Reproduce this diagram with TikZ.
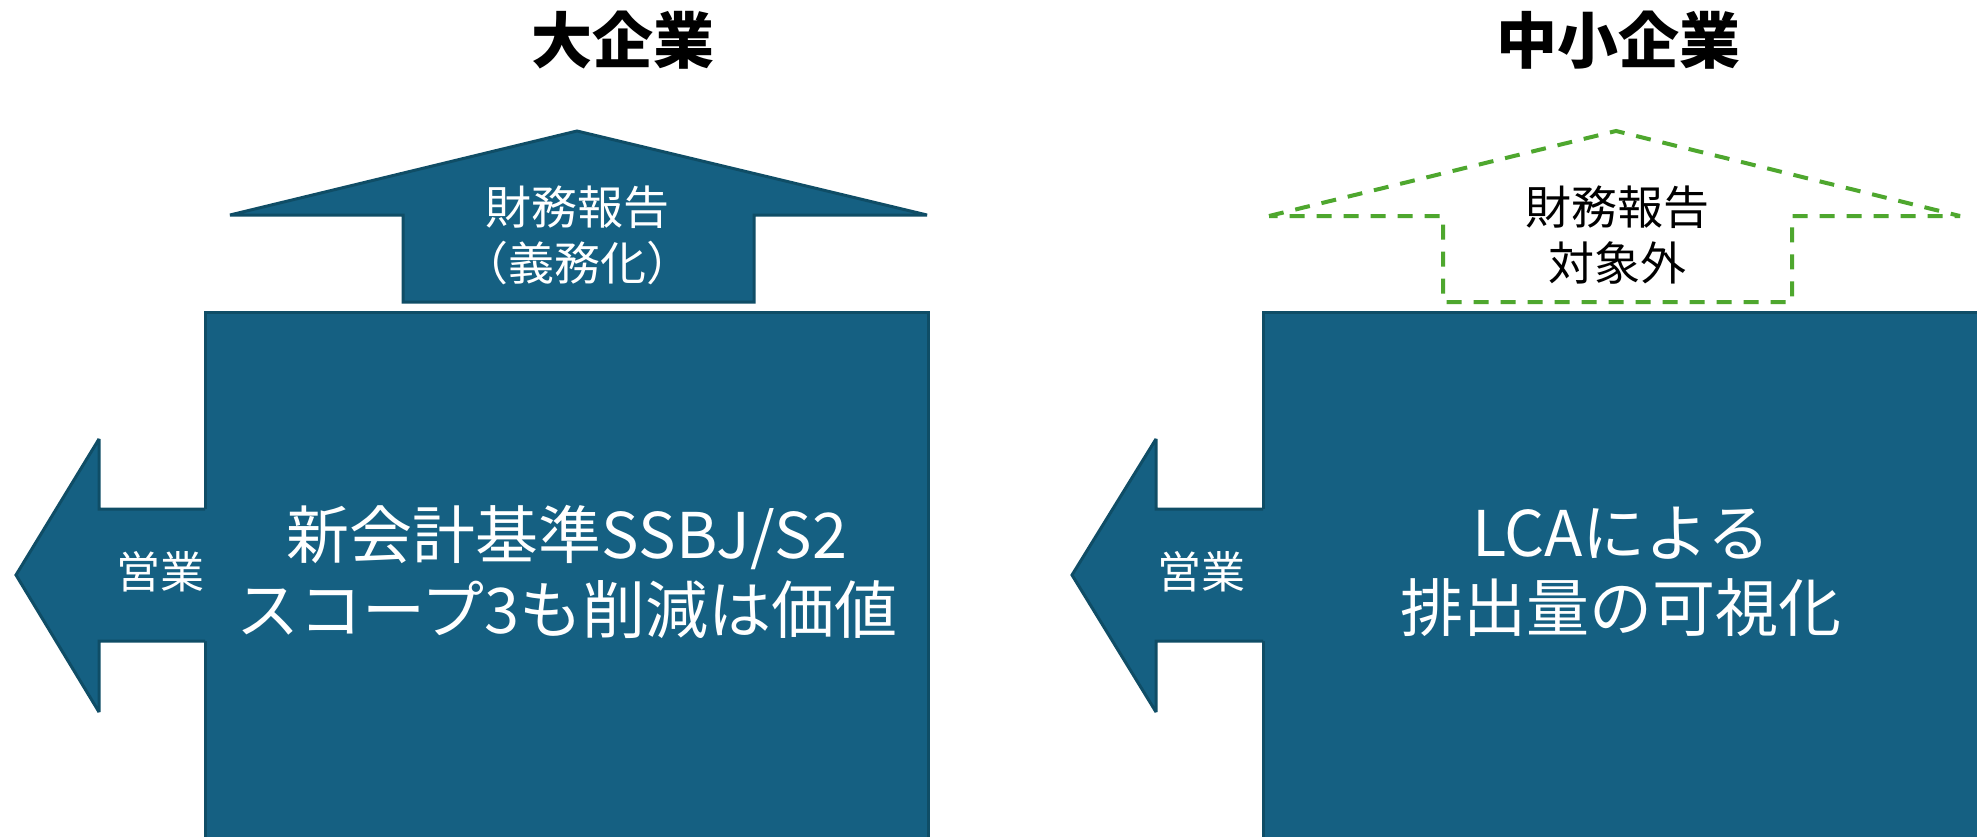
\documentclass[tikz,border=0pt]{standalone}
\usepackage{fontspec}
\newfontfamily\jp{Noto Sans CJK JP}
\definecolor{boxfill}{HTML}{156082}
\definecolor{boxline}{HTML}{0F4D66}
\definecolor{dashgreen}{HTML}{4EA72E}
\tikzset{
  blueshape/.style={fill=boxfill, draw=boxline, line width=3pt, line join=miter, miter limit=2},
  bluefill/.style={fill=boxfill, draw=none},
  blueline/.style={draw=boxline, line width=3pt, line join=miter, miter limit=2},
  greendash/.style={draw=dashgreen, line width=4pt, dash pattern=on 15pt off 12pt, miter limit=2},
  titletext/.style={font=\jp\bfseries\fontsize{61}{70}\selectfont, text=black, inner sep=0pt},
  maintext/.style={font=\jp\fontsize{63}{75}\selectfont, text=white, align=center, inner sep=0pt},
  uptext/.style={font=\jp\fontsize{46}{56}\selectfont, align=center, inner sep=0pt},
  sidetext/.style={font=\jp\fontsize{44}{50}\selectfont, text=white, inner sep=0pt}
}
\begin{document}
\begin{tikzpicture}[x=1pt,y=-1pt]
\clip (0,0) rectangle (1977,837);
\fill[white] (0,0) rectangle (1977,837);

% ---------- Large enterprises ----------
\node[titletext] (t1) at (623,40) {大企業};

\draw[blueshape] (577,131) -- (927,215) -- (754,215) -- (754,302) -- (403,302) -- (403,215) -- (230,215) -- cycle;
\node[uptext, text=white] (u1) at (577,235) {財務報告\\（義務化）};

\draw[blueshape] (205,312) rectangle (928,850);
\node[maintext] (m1) at (567,572) {新会計基準SSBJ/S2\\スコープ3も削減は価値};

\fill[bluefill] (208,509) -- (99,509) -- (99,439) -- (16,575) -- (99,712) -- (99,641) -- (208,641) -- cycle;
\draw[blueline] (205,509) -- (99,509) -- (99,439) -- (16,575) -- (99,712) -- (99,641) -- (205,641);
\node[sidetext] (s1) at (160,572) {営業};

% ---------- SMEs ----------
\node[titletext] (t2) at (1618,40) {中小企業};

\draw[greendash] (1269,216) -- (1616,131) -- (1960,216) -- (1792,216) -- (1792,302) -- (1443,302) -- (1443,216) -- cycle;
\node[uptext, text=black] (u2) at (1617,235) {財務報告\\対象外};

\draw[blueshape] (1263,312) rectangle (2000,850);
\node[maintext] (m2) at (1621,572) {LCAによる\\排出量の可視化};

\fill[bluefill] (1266,509) -- (1156,509) -- (1156,439) -- (1072,575) -- (1156,712) -- (1156,641) -- (1266,641) -- cycle;
\draw[blueline] (1263,509) -- (1156,509) -- (1156,439) -- (1072,575) -- (1156,712) -- (1156,641) -- (1263,641);
\node[sidetext] (s2) at (1201,572) {営業};
\end{tikzpicture}
\end{document}
